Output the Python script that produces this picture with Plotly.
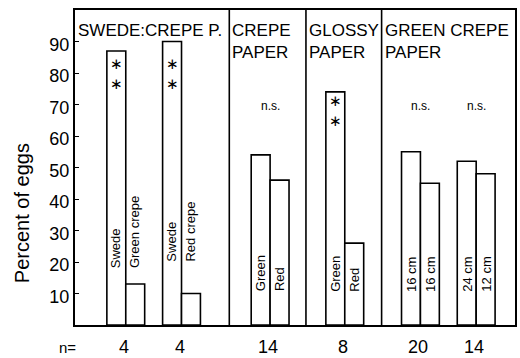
import plotly.graph_objects as go

# ---------------- data ----------------
left_labels = ["Swede", "Swede", "Green", "Green", "16 cm", "24 cm"]
right_labels = ["Green crepe", "Red crepe", "Red", "Red", "16 cm", "12 cm"]
left_values = [87, 90, 54, 74, 55, 52]
right_values = [13, 10, 46, 26, 45, 48]
n_values = [4, 4, 14, 8, 20, 14]
significance = ["**", "**", "n.s.", "**", "n.s.", "n.s."]
panel_titles = ["SWEDE:CREPE P.", "CREPE<br>PAPER", "GLOSSY<br>PAPER", "GREEN CREPE<br>PAPER"]
y_ticks = [10, 20, 30, 40, 50, 60, 70, 80, 90]

# ---------------- layout (positions / styles) ----------------
pair_x = [51, 107, 196, 271, 347, 403]     # centre of each pair on a 0..442 x scale
panel_edges = [0, 155, 232, 308, 442]
bar_w = 19
label_base = [17.5, 19.5, 10, 10, 10, 10]
star_y = [79.8, 79.8, None, 67.8, None, None]
ns_y = 69.5
FONT = "Liberation Sans, Arial, sans-serif"

fig = go.Figure()
common = dict(marker=dict(color="white", line=dict(color="black", width=1.6)),
              width=bar_w, showlegend=False, hoverinfo="skip")
fig.add_trace(go.Bar(x=pair_x, y=left_values, offset=-bar_w, **common))
fig.add_trace(go.Bar(x=pair_x, y=right_values, offset=0, **common))

ann = []
for i, px in enumerate(pair_x):
    for lab, dx in ((left_labels[i], -bar_w / 2), (right_labels[i], bar_w / 2)):
        ann.append(dict(x=px + dx, y=label_base[i], xref="x", yref="y", text=lab,
                        textangle=-90, showarrow=False, xanchor="center", yanchor="bottom",
                        font=dict(family=FONT, size=13, color="black")))
    if significance[i] == "**":
        ann.append(dict(x=px - bar_w / 2, y=star_y[i], xref="x", yref="y", text="∗<br>∗",
                        showarrow=False, xanchor="center", yanchor="middle",
                        font=dict(family="DejaVu Sans", size=15, color="black")))
    else:
        ann.append(dict(x=px, y=ns_y, xref="x", yref="y", text=significance[i],
                        showarrow=False, xanchor="center", yanchor="middle",
                        font=dict(family=FONT, size=12, color="black")))
    ann.append(dict(x=px - 2, y=0, xref="x", yref="paper", yshift=-22, text=str(n_values[i]),
                    showarrow=False, xanchor="center", yanchor="middle",
                    font=dict(family=FONT, size=18, color="black")))

ann.append(dict(x=0, y=0, xref="paper", yref="paper", xshift=3, yshift=-22, text="n=",
                showarrow=False, xanchor="right", yanchor="middle",
                font=dict(family=FONT, size=15, color="black")))

for j, t in enumerate(panel_titles):
    ann.append(dict(x=panel_edges[j], y=1, xref="x", yref="paper", xshift=1, yshift=-9,
                    text=t, showarrow=False, xanchor="left", yanchor="top", align="left",
                    font=dict(family=FONT, size=17, color="black")))

ann.append(dict(x=0, y=0.355, xref="paper", yref="paper", xshift=-53, text="Percent of eggs",
                textangle=-90, showarrow=False, xanchor="center", yanchor="middle",
                font=dict(family=FONT, size=20, color="black")))

shapes = [dict(type="line", xref="x", yref="paper", x0=e, x1=e, y0=0, y1=1,
               line=dict(color="black", width=1.6)) for e in panel_edges[1:-1]]

fig.update_layout(
    width=520, height=358,
    margin=dict(l=75, r=3, t=10, b=33),
    paper_bgcolor="white", plot_bgcolor="white",
    barmode="overlay", annotations=ann, shapes=shapes,
    xaxis=dict(range=[panel_edges[0], panel_edges[-1]], showticklabels=False, ticks="",
               showgrid=False, zeroline=False, showline=True, linecolor="black",
               linewidth=2, mirror=True, fixedrange=True),
    yaxis=dict(range=[0, 100], tickvals=y_ticks, ticks="inside", ticklen=4, tickwidth=1.3,
               tickcolor="black", showgrid=False, zeroline=False, showline=True,
               linecolor="black", linewidth=2, mirror=True, ticklabelshift=3,
               tickfont=dict(family=FONT, size=18, color="black"), fixedrange=True),
)

fig.write_html("out.html")
